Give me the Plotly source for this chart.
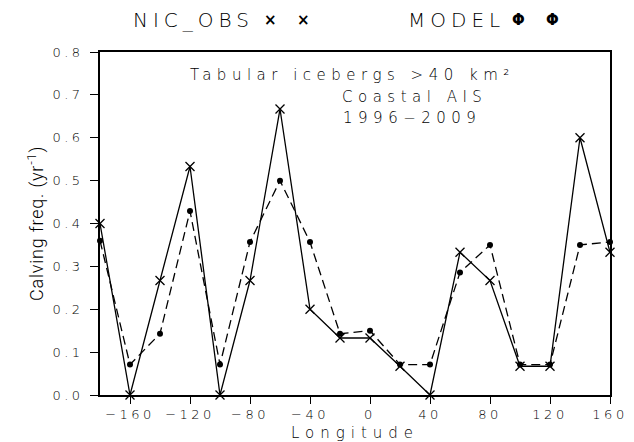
import plotly.graph_objects as go

lon = [-180, -160, -140, -120, -100, -80, -60, -40, -20, 0, 20, 40, 60, 80, 100, 120, 140, 160]
nic_obs = [0.40, 0.0, 0.267, 0.533, 0.0, 0.267, 0.667, 0.20, 0.133, 0.133, 0.067, 0.0, 0.333, 0.267, 0.067, 0.067, 0.60, 0.333]
model = [0.36, 0.071, 0.143, 0.429, 0.071, 0.357, 0.50, 0.357, 0.143, 0.15, 0.071, 0.071, 0.286, 0.35, 0.071, 0.071, 0.35, 0.357]

x_ticks = [-160, -120, -80, -40, 0, 40, 80, 120, 160]
x_tick_labels = ["\u2212160", "\u2212120", "\u221280", "\u221240", "0", "40", "80", "120", "160"]
y_ticks = [0.0, 0.1, 0.2, 0.3, 0.4, 0.5, 0.6, 0.7, 0.8]
y_tick_labels = ["0.0", "0.1", "0.2", "0.3", "0.4", "0.5", "0.6", "0.7", "0.8"]

FONT = "DejaVu Sans"


def sp(t, ls):
    return "<span style='letter-spacing:%spx'>%s</span>" % (ls, t)


W, H = 634, 442
L, R, T, B = 100, 24, 52, 47
pw, ph = W - L - R, H - T - B


def px2paper(px, py):
    return (px - L) / pw, (H - B - py) / ph


fig = go.Figure()
fig.add_trace(go.Scatter(
    x=lon, y=model, mode="lines+markers", name="MODEL",
    line=dict(color="black", width=1.3, dash="9px,5px"),
    marker=dict(symbol="circle", size=6, color="black"),
    cliponaxis=False,
))
fig.add_trace(go.Scatter(
    x=lon, y=nic_obs, mode="lines+markers", name="NIC_OBS",
    line=dict(color="black", width=1.3),
    marker=dict(symbol="x-thin", size=9, line=dict(color="black", width=1.3)),
    cliponaxis=False,
))

fig.update_layout(
    width=W, height=H,
    margin=dict(l=L, r=R, t=T, b=B, autoexpand=False),
    paper_bgcolor="white", plot_bgcolor="white",
    showlegend=False,
    font=dict(family=FONT, color="black", size=13),
    xaxis=dict(
        range=[-180, 160], tickvals=x_ticks, ticktext=[sp(t, 3.5) for t in x_tick_labels],
        ticks="outside", ticklen=7, tickwidth=1, tickcolor="black",
        showline=True, linecolor="black", linewidth=1.5, mirror=True,
        showgrid=False, zeroline=False, automargin=False,
        tickfont=dict(family=FONT, size=13, weight=200),
        title=dict(text=sp("Longitude", 6), font=dict(family=FONT, size=15, weight=200), standoff=6),
    ),
    yaxis=dict(
        range=[0, 0.8], tickvals=y_ticks, ticktext=[sp(t, 3.5) for t in y_tick_labels],
        ticks="outside", ticklen=8, tickwidth=1, tickcolor="black",
        showline=True, linecolor="black", linewidth=1.5, mirror=True,
        showgrid=False, zeroline=False, ticklabelstandoff=4, automargin=False,
        tickfont=dict(family=FONT, size=13, weight=200),
        title=dict(text=sp("Calving freq. (yr<sup>-1</sup>)", 0.8),
                   font=dict(family="Roboto", size=18, weight=300), standoff=4),
    ),
)

texts = [
    (sp("Tabular icebergs &gt;40 km\u00b2", 5.5), 352, 75, 15),
    (sp("Coastal AIS", 5.5), 414, 97, 15),
    (sp("1996\u22122009", 5.5), 412, 118, 15),
    (sp("NIC_OBS", 5), 193, 20, 20),
    (sp("MODEL", 5), 456, 20, 20),
]
for t, x, y, s in texts:
    xp, yp = px2paper(x, y)
    fig.add_annotation(text=t, x=xp, y=yp, xref="paper", yref="paper", xanchor="center", yanchor="middle",
                       showarrow=False, font=dict(family=FONT, size=s, weight=200, color="black"))

for x in (270, 303):
    xp, yp = px2paper(x, 20)
    fig.add_annotation(text="<b>\u00d7</b>", x=xp, y=yp, xref="paper", yref="paper", xanchor="center", yanchor="middle",
                       showarrow=False, font=dict(family=FONT, size=15, color="black"))
for x in (518, 552):
    xp, yp = px2paper(x, 20)
    fig.add_annotation(text="<b>\u03a6</b>", x=xp, y=yp, xref="paper", yref="paper", xanchor="center", yanchor="middle",
                       showarrow=False, font=dict(family=FONT, size=15, color="black"))

fig.write_html("out.html")
